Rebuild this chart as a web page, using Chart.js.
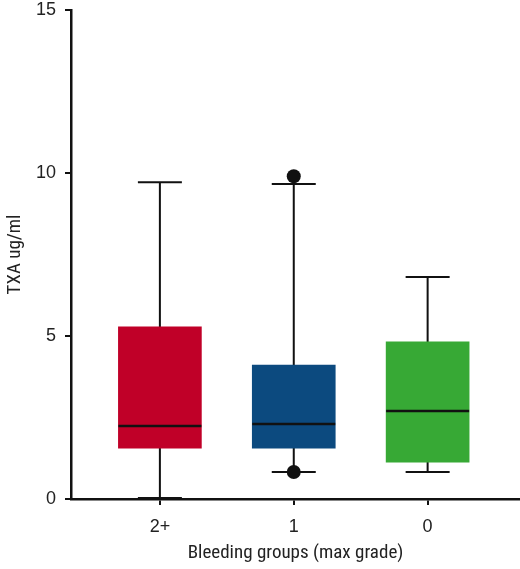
<!DOCTYPE html>
<html>
<head>
<meta charset="utf-8">
<script src="https://cdn.jsdelivr.net/npm/chart.js@4"></script>
<style>
  html, body { margin: 0; padding: 0; background: #fff; overflow: hidden; }
  #c { display: block; }
</style>
</head>
<body>
<canvas id="c" width="520" height="569"></canvas>
<script>
// groups and box-plot stats
const groups = ['2+', '1', '0'];
const whiskerLow = [0.03, 0.83, 0.83];
const q1 = [1.56, 1.56, 1.13];
const median = [2.24, 2.30, 2.70];
const q3 = [5.28, 4.11, 4.82];
const whiskerHigh = [9.72, 9.66, 6.81];
const outliers = [{ x: 1, y: 9.9 }, { x: 1, y: 0.83 }];
const boxColors = ['#c00028', '#0c4a7f', '#37a935'];
const yTicks = [0, 5, 10, 15];

const ink = '#111';

// whiskers behind the boxes, medians on top
const boxPlot = {
  id: 'boxPlot',
  beforeDatasetsDraw(chart) {
    const { ctx, scales: { x, y } } = chart;
    ctx.save();
    ctx.strokeStyle = ink;
    ctx.lineWidth = 2;
    groups.forEach((g, i) => {
      const px = x.getPixelForValue(i);
      ctx.beginPath();
      ctx.moveTo(px, y.getPixelForValue(whiskerLow[i]));
      ctx.lineTo(px, y.getPixelForValue(whiskerHigh[i]));
      // caps
      [whiskerLow[i], whiskerHigh[i]].forEach(v => {
        const py = y.getPixelForValue(v);
        ctx.moveTo(px - 22, py);
        ctx.lineTo(px + 22, py);
      });
      ctx.stroke();
    });
    ctx.restore();
  },
  afterDatasetDraw(chart, args) {
    if (args.index !== 0) return;
    const { ctx, scales: { x, y } } = chart;
    ctx.save();
    ctx.strokeStyle = ink;
    ctx.lineWidth = 2.5;
    groups.forEach((g, i) => {
      const px = x.getPixelForValue(i);
      const py = y.getPixelForValue(median[i]);
      ctx.beginPath();
      ctx.moveTo(px - 41.5, py);
      ctx.lineTo(px + 41.5, py);
      ctx.stroke();
    });
    ctx.restore();
  }
};

const font = { family: '"Liberation Sans", Arial, Helvetica, sans-serif', size: 18 };
const titleFont = { family: '"Liberation Sans Narrow", "Arial Narrow", "Roboto Condensed", "DejaVu Sans Condensed", sans-serif', size: 19 };

new Chart(document.getElementById('c'), {
  type: 'bar',
  data: {
    datasets: [{
      type: 'bar',
      data: groups.map((g, i) => ({ x: i, y: [q1[i], q3[i]] })),
      backgroundColor: boxColors,
      borderWidth: 0,
      barThickness: 83,
      order: 2
    }, {
      type: 'scatter',
      data: outliers,
      pointRadius: 7,
      pointBackgroundColor: ink,
      pointBorderWidth: 0,
      order: 1
    }]
  },
  options: {
    responsive: false,
    animation: false,
    layout: { autoPadding: false, padding: 0 },
    plugins: { legend: { display: false }, tooltip: { enabled: false } },
    scales: {
      x: {
        type: 'linear',
        offset: false,
        min: -0.664,
        max: 2.69,
        afterBuildTicks: s => { s.ticks = groups.map((g, i) => ({ value: i })); },
        afterFit: s => { s.height = 70; s.paddingRight = 0; s.paddingLeft = 0; },
        ticks: { callback: v => groups[v], font: font, color: '#222', padding: 11, autoSkip: false, maxRotation: 0 },
        grid: { offset: false, drawOnChartArea: false, drawTicks: true, tickLength: 6, color: ink, lineWidth: 2 },
        border: { display: true, color: ink, width: 2.5 },
        title: { display: true, text: 'Bleeding groups (max grade)', font: titleFont, color: '#222', padding: { top: 5 } }
      },
      y: {
        min: 0,
        max: 15,
        afterBuildTicks: s => { s.ticks = yTicks.map(v => ({ value: v })); },
        afterFit: s => { s.width = 71; s.paddingTop = 10; s.paddingBottom = 0; },
        ticks: { font: font, color: '#222', padding: 9 },
        grid: { drawOnChartArea: false, drawTicks: true, tickLength: 6, color: ink, lineWidth: 2 },
        border: { display: true, color: ink, width: 2.5 },
        title: { display: true, text: 'TXA ug/ml', font: titleFont, color: '#222', padding: { bottom: 0, top: 4 } }
      }
    }
  },
  plugins: [boxPlot]
});
</script>
</body>
</html>
